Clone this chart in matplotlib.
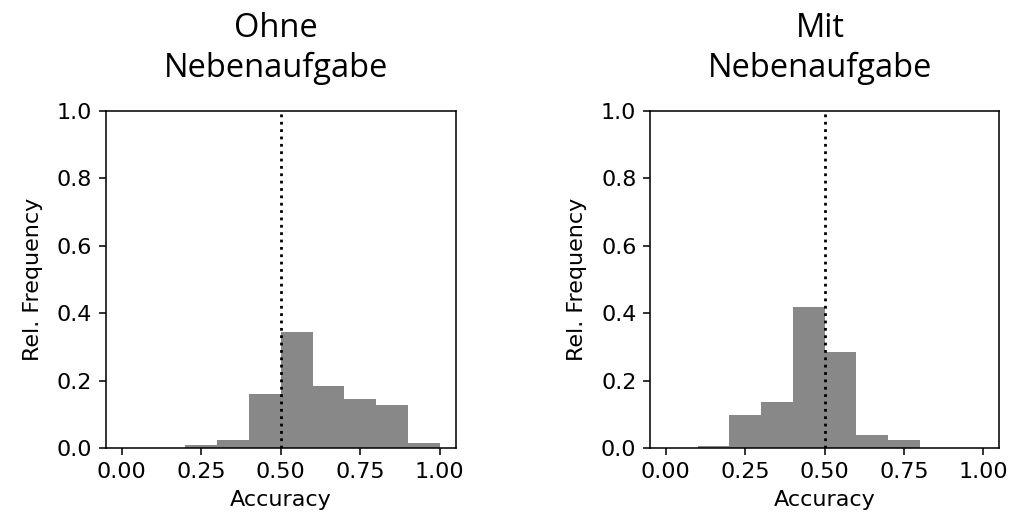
import numpy as np
import matplotlib
matplotlib.use("Agg")
import matplotlib.pyplot as plt

# Histogramm-Daten (Klassenbreite 0.1)
bin_edges = [0.0, 0.1, 0.2, 0.3, 0.4, 0.5, 0.6, 0.7, 0.8, 0.9, 1.0]
freq_ohne = [0.0, 0.0, 0.011, 0.025, 0.161, 0.345, 0.186, 0.146, 0.127, 0.015]
freq_mit = [0.0, 0.006, 0.098, 0.136, 0.42, 0.286, 0.04, 0.026, 0.0, 0.0]
titles = ["Ohne\nNebenaufgabe", "Mit\nNebenaufgabe"]
chance = 0.5

s = 1.4  # Skalierung gegenüber Standardgrößen
plt.rcParams.update({
    "font.size": 16,
    "axes.linewidth": 0.8 * s,
    "xtick.major.size": 3.5 * s,
    "ytick.major.size": 3.5 * s,
    "xtick.major.width": 0.8 * s,
    "ytick.major.width": 0.8 * s,
    "xtick.major.pad": 3.5 * s,
    "ytick.major.pad": 3.5 * s,
    "axes.labelpad": 4 * s,
})

fig = plt.figure(figsize=(10.09, 5.19), dpi=100)
ax1 = fig.add_axes([0.1048, 0.1362, 0.3469, 0.6505])
ax2 = fig.add_axes([0.6442, 0.1362, 0.3459, 0.6505])

for ax, freq, title in zip([ax1, ax2], [freq_ohne, freq_mit], titles):
    ax.bar(bin_edges[:-1], freq, width=np.diff(bin_edges), align="edge",
           color="#888888", linewidth=0)
    ax.axvline(chance, color="k", linestyle=":", linewidth=2)
    ax.set_xlim(-0.05, 1.05)
    ax.set_ylim(0, 1)
    ax.set_xticks([0, 0.25, 0.5, 0.75, 1.0])
    ax.set_yticks(np.arange(0, 1.01, 0.2))
    ax.set_xlabel("Accuracy")
    ax.set_ylabel("Rel. Frequency", labelpad=10)
    ax.set_title(title, fontsize=23.5, family="Open Sans", pad=24,
                 linespacing=1.27, x=0.487)

fig.savefig("out.png", dpi=100)
